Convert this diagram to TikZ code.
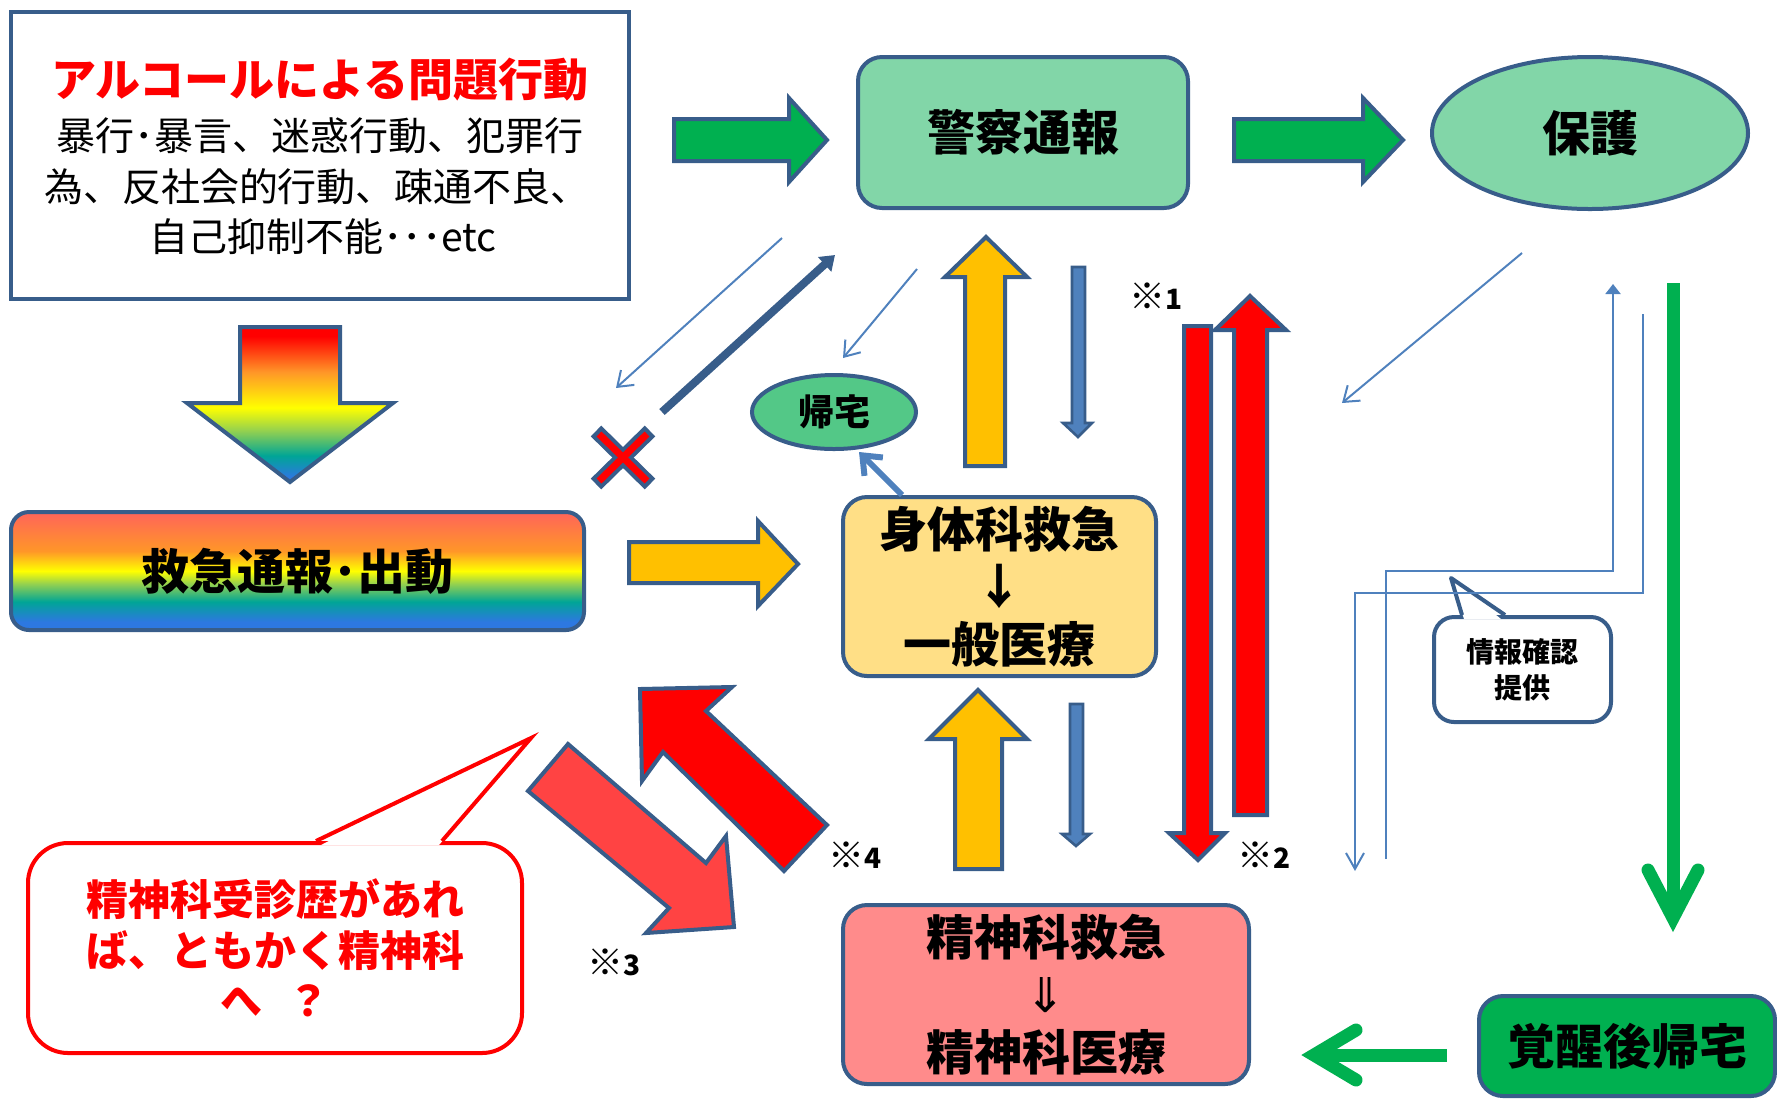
\documentclass[tikz,border=0pt]{standalone}
\usepackage{fontspec}
\setmainfont{Noto Sans CJK JP}
\newfontfamily\djv{DejaVu Sans}
\usetikzlibrary{arrows.meta,shapes.geometric}
\definecolor{bdr}{RGB}{56,93,138}
\definecolor{tblue}{RGB}{79,129,189}
\definecolor{lgreen}{RGB}{130,214,168}
\definecolor{kgreen}{RGB}{83,200,135}
\definecolor{dgreen}{RGB}{0,176,80}
\definecolor{yel}{RGB}{255,223,134}
\definecolor{pnk}{RGB}{255,139,139}
\definecolor{orng}{RGB}{255,192,0}
\definecolor{lred}{RGB}{255,67,67}
\definecolor{rbRed}{RGB}{255,0,0}
\definecolor{rbSalmon}{RGB}{255,100,90}
\definecolor{rbOrange}{RGB}{255,150,40}
\definecolor{rbYellow}{RGB}{255,255,0}
\definecolor{rbGreen}{RGB}{146,208,80}
\definecolor{rbTeal}{RGB}{0,165,150}
\definecolor{rbBlue}{RGB}{45,120,225}
\pgfdeclareverticalshading{rainbowA}{100bp}{color(0bp)=(rbBlue); color(26.5bp)=(rbBlue); color(33.5bp)=(rbTeal); color(41.5bp)=(rbGreen); color(49bp)=(rbYellow); color(60.5bp)=(rbOrange); color(72bp)=(rbRed); color(100bp)=(rbRed)}
\pgfdeclareverticalshading{rainbowB}{100bp}{color(0bp)=(rbBlue); color(28.5bp)=(rbBlue); color(37bp)=(rbTeal); color(44.5bp)=(rbGreen); color(50bp)=(rbYellow); color(58.5bp)=(rbOrange); color(75bp)=(rbSalmon); color(100bp)=(rbSalmon)}
\newcommand{\kome}{{\fontsize{18}{18}\selectfont ※}}
\begin{document}
\begin{tikzpicture}[x=0.5pt,y=-0.5pt,
  rbox/.style={draw=bdr, line width=2pt, rounded corners=12pt, inner sep=0pt, align=center,
    font=\bfseries\fontsize{24}{28.75}\selectfont},
  blk/.style={draw=bdr, line width=2pt, line join=miter},
  thinblk/.style={draw=bdr, line width=1.3pt, fill=tblue, line join=miter},
  thinln/.style={draw=tblue, line width=1pt},
  barb/.style={-{Straight Barb[length=7pt,width=10pt]}},
  note/.style={font=\bfseries\fontsize{14}{16}\selectfont, inner sep=0pt},
  gline/.style={draw=dgreen, line width=6.5pt}
]
\useasboundingbox (0,0) rectangle (1777,1100);
\clip (0,0) rectangle (1777,1100);

% ---------- boxes ----------
\node[draw=bdr, line width=2pt, minimum width=309pt, minimum height=143.5pt, inner sep=0pt] (probbox) at (320,155.5) {};
\node[text=red, font=\bfseries\fontsize{22.5}{27}\selectfont, inner sep=0pt] (ttl) at (320,80) {アルコールによる問題行動};
\node[font=\fontsize{19.5}{24}\selectfont, inner sep=0pt] (l1) at (320,136) {暴行･暴言、迷惑行動、犯罪行};
\node[font=\fontsize{19.5}{24}\selectfont, inner sep=0pt] (l2) at (317,187) {為、反社会的行動、疎通不良、};
\node[font=\fontsize{19.5}{24}\selectfont, inner sep=0pt] (l3) at (323,237) {自己抑制不能･･･etc};

\node[rbox, fill=lgreen, minimum width=165pt, minimum height=75.5pt] (police) at (1023,132.5) {警察通報};
\node[draw=bdr, line width=2pt, ellipse, fill=lgreen, minimum width=158pt, minimum height=76pt, inner sep=0pt,
  font=\bfseries\fontsize{24}{28}\selectfont] (hogo) at (1590,133) {保護};
\node[draw=bdr, line width=2pt, ellipse, fill=kgreen, minimum width=82pt, minimum height=37pt, inner sep=0pt,
  font=\bfseries\fontsize{18}{20}\selectfont] (kitaku) at (834,412) {帰宅};
\node[rbox, fill=yel, minimum width=156.5pt, minimum height=89.5pt] (shintai) at (999.5,586.5) {身体科救急\\↓\\一般医療};
\node[rbox, fill=pnk, minimum width=203pt, minimum height=89.5pt] (seishin) at (1046,994.5) {精神科救急\\{\djv\mdseries ⇓}\\精神科医療};
\node[rbox, fill=dgreen, minimum width=148pt, minimum height=50pt] (kakusei) at (1627,1046) {覚醒後帰宅};
\node[rbox, rounded corners=9pt, shade, shading=rainbowB, minimum width=286.5pt, minimum height=59pt] (kyukyu) at (297.5,571) {救急通報･出動};

% info callout
\node[draw=bdr, line width=2pt, rounded corners=10pt, fill=white, minimum width=88.5pt, minimum height=52.5pt, inner sep=0pt,
  align=center, font=\bfseries\fontsize{14}{18}\selectfont] (info) at (1522.5,669.5) {情報確認\\提供};
\coordinate (ip1) at (1462,615);
\coordinate (ipt) at (1451,578);
\coordinate (ip2) at (1505,615);
\fill[white] (1464,619) -- (ipt) -- (1501,619) -- cycle;
\draw[bdr, line width=2pt, line join=round] (ip1) -- (ipt) -- (ip2);

% red callout
\node[draw=red, line width=2pt, rounded corners=20pt, fill=white, minimum width=247pt, minimum height=105pt, inner sep=0pt,
  align=center, text=red, font=\bfseries\fontsize{21}{25.25}\selectfont] (comment) at (275,948) {精神科受診歴があれ\\ば、ともかく精神科\\へ\hspace{0.6em}？};
\coordinate (rp1) at (316,841);
\coordinate (rpt) at (531,738);
\coordinate (rp2) at (442,841);
\fill[white] (321,845) -- (rpt) -- (439,845) -- cycle;
\draw[red, line width=2pt, line join=miter] (rp1) -- (rpt) -- (rp2);

% ---------- block arrows ----------
\draw[blk, fill=dgreen] (674,119) -- (789,119) -- (789,98) -- (827,140) -- (789,182) -- (789,161) -- (674,161) -- cycle;
\draw[blk, fill=dgreen] (1234,119) -- (1363,119) -- (1363,98) -- (1403,140) -- (1363,182) -- (1363,161) -- (1234,161) -- cycle;
\shadedraw[blk, shading=rainbowA] (240,327) -- (340,327) -- (340,403) -- (393,403) -- (290,482) -- (187,403) -- (240,403) -- cycle;
\draw[blk, fill=orng] (629,542) -- (758,542) -- (758,521) -- (798,564) -- (758,606) -- (758,583) -- (629,583) -- cycle;
\draw[blk, fill=orng] (965,466) -- (965,277) -- (945,277) -- (986,237) -- (1027,277) -- (1005,277) -- (1005,466) -- cycle;
\draw[blk, fill=orng] (955,869) -- (955,739) -- (929,739) -- (978,690) -- (1027,739) -- (1002,739) -- (1002,869) -- cycle;
\draw[thinblk] (1072,267) -- (1085,267) -- (1085,423) -- (1092,423) -- (1078,437) -- (1063,423) -- (1072,423) -- cycle;
\draw[thinblk] (1070,704) -- (1083,704) -- (1083,834) -- (1090,834) -- (1076,846) -- (1062,834) -- (1070,834) -- cycle;
\draw[blk, fill=red] (1184,326) -- (1211,326) -- (1211,833) -- (1225,833) -- (1198,860) -- (1169,833) -- (1184,833) -- cycle;
\draw[blk, fill=red] (1234,815) -- (1234,330) -- (1215,330) -- (1250,296) -- (1286,330) -- (1267,330) -- (1267,815) -- cycle;
\draw[blk, fill=red] (640,689) -- (732,687) -- (706,711) -- (827,825) -- (784,871) -- (663,752) -- (642,781) -- cycle;
\draw[blk, fill=lred] (568,744) -- (706,863) -- (726,836) -- (734,927) -- (646,933) -- (669,908) -- (528,791) -- cycle;

% ---------- line connectors ----------
\coordinate (a1s) at (782,238); \coordinate (a1e) at (616,388);
\draw[thinln, barb] (a1s) -- (a1e);
\coordinate (a2s) at (662,412); \coordinate (a2e) at (835,255);
\draw[draw=bdr, line width=4pt, -{Triangle[length=7pt,width=9.5pt]}] (a2s) -- (a2e);
\coordinate (a3s) at (917,269); \coordinate (a3e) at (843,358);
\draw[thinln, barb] (a3s) -- (a3e);
\coordinate (a4s) at (902,495); \coordinate (a4e) at (859,452);
\draw[draw=tblue, line width=3pt, -{Straight Barb[length=8pt,width=13pt]}] (a4s) -- (a4e);
\coordinate (a5s) at (1522,253); \coordinate (a5e) at (1342,403);
\draw[thinln, barb] (a5s) -- (a5e);

\coordinate (e1s) at (1386,859); \coordinate (e1e) at (1613,284);
\draw[thinln, -{Triangle[length=5pt,width=7.5pt]}] (e1s) -- (1386,571) -- (1613,571) -- (e1e);
\coordinate (e2s) at (1643,314); \coordinate (e2e) at (1355,871);
\draw[thinln, -{Straight Barb[length=8pt,width=9pt]}] (e2s) -- (1643,593) -- (1355,593) -- (e2e);

% green arrows
\coordinate (g1s) at (1673,283); \coordinate (g1e) at (1673,918);
\draw[gline] (g1s) -- (1673,912);
\draw[gline, line cap=round, line join=miter] (1648,870) -- (g1e) -- (1698,870);
\coordinate (g2s) at (1447,1055); \coordinate (g2e) at (1314,1055);
\draw[gline] (g2s) -- (1320,1055);
\draw[gline, line cap=round, line join=miter] (1356,1030) -- (g2e) -- (1356,1080);

% cross mark
\draw[bdr, line width=7.5pt] (596,431) -- (650,484);
\draw[bdr, line width=7.5pt] (650,431) -- (596,484);
\draw[red, line width=3.5pt] (599,434) -- (647,481);
\draw[red, line width=3.5pt] (647,434) -- (599,481);

% notes
\node[note] (n1) at (1156,296) {\kome 1};
\node[note] (n2) at (1264,855) {\kome 2};
\node[note] (n3) at (614,962) {\kome 3};
\node[note] (n4) at (855,855) {\kome 4};
\end{tikzpicture}
\end{document}
